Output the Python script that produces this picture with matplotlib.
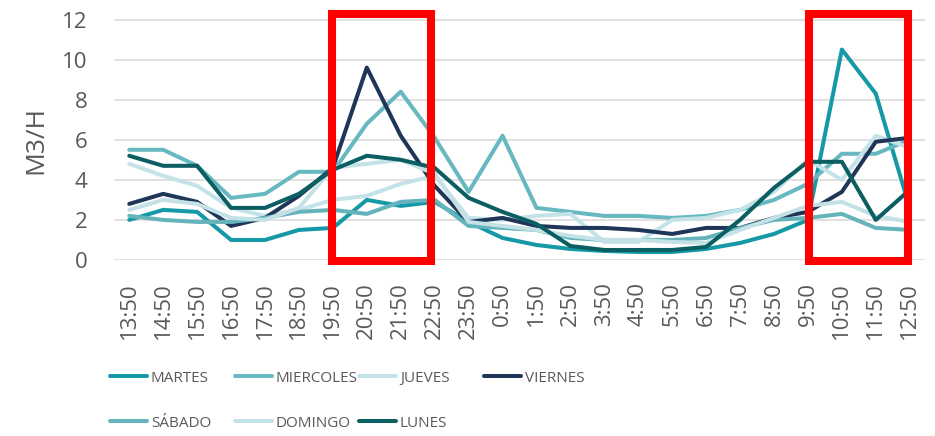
import matplotlib
matplotlib.use('Agg')
import matplotlib.pyplot as plt
from matplotlib.lines import Line2D
from matplotlib.patches import Rectangle

plt.rcParams['font.family'] = ['Open Sans', 'DejaVu Sans']

# data
hours = ['13:50', '14:50', '15:50', '16:50', '17:50', '18:50', '19:50', '20:50',
         '21:50', '22:50', '23:50', '0:50', '1:50', '2:50', '3:50', '4:50',
         '5:50', '6:50', '7:50', '8:50', '9:50', '10:50', '11:50', '12:50']

martes = [2.0, 2.5, 2.4, 1.0, 1.0, 1.5, 1.6, 3.0, 2.7, 2.9, 1.9, 1.1,
          0.75, 0.55, 0.45, 0.4, 0.4, 0.55, 0.85, 1.3, 2.0, 10.5, 8.3, 2.6]
miercoles = [5.5, 5.5, 4.7, 3.1, 3.3, 4.4, 4.4, 6.8, 8.4, 6.1, 3.4, 6.2,
             2.6, 2.4, 2.2, 2.2, 2.1, 2.2, 2.5, 3.0, 3.8, 5.3, 5.3, 6.0]
jueves = [4.8, 4.2, 3.7, 2.6, 2.2, 2.5, 3.0, 3.2, 3.8, 4.2, 2.1, 2.0,
          2.2, 2.3, 0.9, 0.9, 2.0, 2.1, 2.5, 3.4, 5.0, 4.0, 6.2, 5.6]
viernes = [2.8, 3.3, 2.9, 1.7, 2.1, 3.2, 4.6, 9.6, 6.2, 3.7, 1.9, 2.1,
           1.7, 1.6, 1.6, 1.5, 1.3, 1.6, 1.6, 2.1, 2.4, 3.4, 5.9, 6.1]
sabado = [2.2, 2.0, 1.9, 1.9, 2.1, 2.4, 2.5, 2.3, 2.9, 3.0, 1.7, 1.6,
          1.5, 1.1, 1.0, 1.0, 1.0, 1.1, 1.6, 2.0, 2.1, 2.3, 1.6, 1.5]
domingo = [2.5, 3.0, 2.8, 2.1, 2.0, 2.6, 4.6, 4.8, 5.0, 4.3, 1.9, 1.7,
           1.5, 1.2, 1.0, 1.0, 0.9, 0.85, 1.5, 2.1, 2.7, 2.9, 2.2, 1.9]
lunes = [5.2, 4.7, 4.7, 2.6, 2.6, 3.3, 4.5, 5.2, 5.0, 4.6, 3.1, 2.4,
         1.8, 0.7, 0.5, 0.5, 0.5, 0.65, 2.0, 3.6, 4.9, 4.9, 2.0, 3.5]

names = ['MARTES', 'MIERCOLES', 'JUEVES', 'VIERNES', 'SÁBADO', 'DOMINGO', 'LUNES']
series = [martes, miercoles, jueves, viernes, sabado, domingo, lunes]
colors = ['#1599A7', '#67B8C0', '#C4E3E8', '#1F3659', '#65B4BC', '#C4E2E6', '#0B5E62']

# highlighted windows (19:50-22:50 and 9:50-12:50)
highlights = [(5.97, 8.90), (20.03, 22.95)]

W, H = 935, 436
fig = plt.figure(figsize=(W / 100, H / 100), dpi=100)
ax = fig.add_axes([114 / W, 1 - 260 / H, (925 - 114) / W, (260 - 19.5) / H])

x = list(range(len(hours)))
lines = []
for name, vals, c in zip(names, series, colors):
    ln, = ax.plot(x, vals, color=c, lw=2.9, solid_joinstyle='round',
                  solid_capstyle='round', label=name)
    lines.append(ln)

for x0, x1 in highlights:
    ax.add_patch(Rectangle((x0, -0.05), x1 - x0, 12.34, fill=False,
                           edgecolor='#FF0000', lw=5.8, zorder=10,
                           clip_on=False, joinstyle='miter'))

ax.set_xlim(-0.45, 23.45)
ax.set_ylim(0, 12)
ax.set_yticks(range(0, 13, 2))
ax.set_xticks(x)
ax.set_xticklabels(hours, rotation=90)
ax.tick_params(axis='both', length=0, labelsize=16, labelcolor='#595959')
ax.tick_params(axis='x', pad=16)
ax.tick_params(axis='y', pad=19)
ax.grid(axis='y', color='#D9D9D9', lw=1.1)
ax.set_axisbelow(True)
for s in ax.spines.values():
    s.set_visible(False)
ax.set_ylabel('M3/H', fontsize=19, color='#595959', labelpad=10)

# legend, laid out in equal columns like the original
col_x = [110, 235, 359, 484]
row_y = [378, 423]
for i, (ln, name) in enumerate(zip(lines, names)):
    px = col_x[i % 4]
    py = row_y[i // 4]
    h = Line2D([], [], color=ln.get_color(), lw=2.9, solid_capstyle='round')
    fig.legend([h], [name], loc='center left', bbox_to_anchor=(px / W, 1 - py / H),
               frameon=False, fontsize=11, labelcolor='#595959',
               handlelength=2.42, handletextpad=0.26, borderpad=0, borderaxespad=0)

fig.savefig('out.png', dpi=100)
